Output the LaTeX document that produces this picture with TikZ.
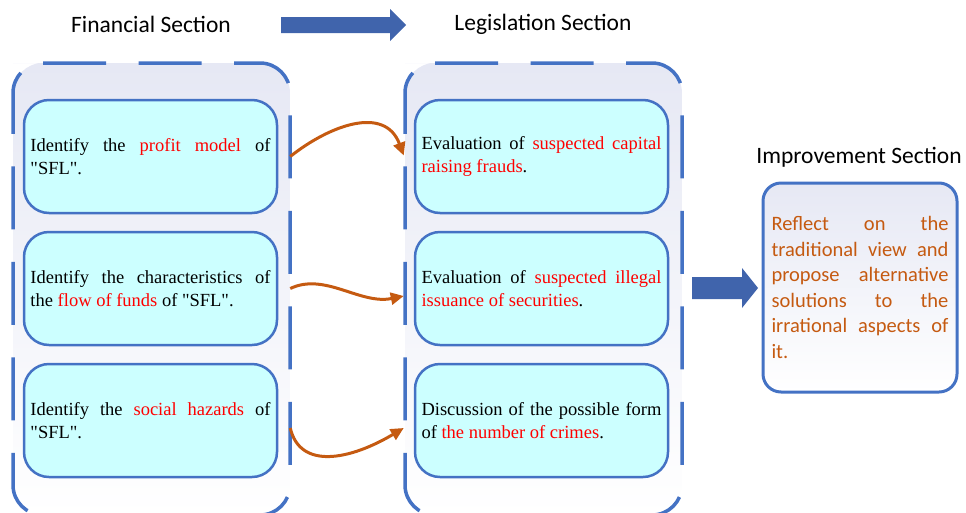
\documentclass[tikz,border=0pt]{standalone}
\usepackage{fontspec}
\setmainfont{Liberation Serif}[Ligatures=TeXOff]
\newfontfamily\calfont{Carlito}
\usetikzlibrary{arrows.meta}
\definecolor{boxblue}{HTML}{4472C4}
\definecolor{cyanfill}{HTML}{CCFFFF}
\definecolor{lav}{HTML}{E6E8F4}
\definecolor{arrowblue}{HTML}{4064AC}
\definecolor{orng}{HTML}{C55A11}
\definecolor{redtxt}{HTML}{FF0000}
\newcommand\redt[1]{\textcolor{redtxt}{#1}}
\newcommand\qq[1]{\char34 #1\char34}
\newcommand\nh[1]{\language=255\relax\hyphenpenalty=10000\relax\exhyphenpenalty=10000\relax
  \tolerance=9999\relax\emergencystretch=30pt\relax #1\par}
\tikzset{
  container/.style={draw=boxblue, line width=3.5pt, dash pattern=on 63pt off 32.5pt, rounded corners=30pt},
  containerleft/.style={container, dash phase=70.5pt},
  containerfill/.style={top color=lav, bottom color=white, rounded corners=30pt},
  innerbox/.style={draw=boxblue, line width=2.5pt, fill=cyanfill, rounded corners=25pt,
    minimum width=253pt, minimum height=113pt, text width=240pt, align=justify, inner sep=0pt,
    font=\fontsize{18.5}{23}\selectfont},
  impbox/.style={draw=boxblue, line width=3pt, top color=lav, bottom color=white, rounded corners=18pt,
    minimum width=194pt, minimum height=209pt, text width=177pt, align=justify, inner sep=0pt,
    font=\calfont\fontsize{20.5}{25.6}\selectfont, text=orng},
  title/.style={font=\calfont\fontsize{23.5}{28}\selectfont, inner sep=0pt},
  conn/.style={draw=orng, line width=3pt, -{Triangle[length=13pt,width=12pt]}},
  blockarrow/.style={fill=arrowblue, draw=none},
}
\begin{document}
\begin{tikzpicture}[x=1pt,y=-1pt]
\useasboundingbox (0,0) rectangle (966,512);
\clip (0,0) rectangle (966,512);

% titles
\node[title] (tfin) at (151,24) {Financial Section};
\node[title] (tleg) at (543,24) {Legislation Section};
\node[title] (timp) at (859,157) {Improvement Section};

% top block arrow
\path[blockarrow] (281,17) -- (390,17) -- (390,9) -- (406,25) -- (390,41) -- (390,33) -- (281,33) -- cycle;

% containers
\shade[containerfill] (43,63) -- (290,63) -- (290,515) -- (13,515) -- (13,63) -- cycle;
\shade[containerfill] (435,63) -- (682,63) -- (682,515) -- (405,515) -- (405,63) -- cycle;
\draw[container] (43,63) -- (290,63) -- (290,515) -- (150,515);
\draw[containerleft] (43,63) -- (13,63) -- (13,515) -- (150,515);
\draw[container] (435,63) -- (682,63) -- (682,515) -- (543,515);
\draw[containerleft] (435,63) -- (405,63) -- (405,515) -- (543,515);

% left boxes
\node[innerbox] (l1) at (150.5,156.5) {\nh{Identify the \redt{profit model} of \qq{SFL}.}};
\node[innerbox] (l2) at (150.5,288.5) {\nh{Identify the characteristics of\linebreak the \redt{flow of funds} of \qq{SFL}.}};
\node[innerbox] (l3) at (150.5,420.5) {\nh{Identify the \redt{social hazards} of \qq{SFL}.}};

% right boxes
\node[innerbox] (r1) at (541.5,156.5) {\nh{Evaluation of \redt{suspected capital raising frauds}.}};
\node[innerbox] (r2) at (541.5,288.5) {\nh{Evaluation of \redt{suspected illegal issuance of securities}.}};
\node[innerbox] (r3) at (541.5,420.5) {\nh{Discussion of the possible form of \redt{the number of crimes}.}};

% improvement box
\node[impbox] (imp) at (860,287.5) {\nh{Reflect on the\linebreak traditional view and\linebreak propose alternative\linebreak solutions to the\linebreak irrational aspects of\linebreak it.}};

% right block arrow
\path[blockarrow] (692,277) -- (742,277) -- (742,268) -- (758,288) -- (742,308) -- (742,299) -- (692,299) -- cycle;

% connectors
\draw[conn] ([xshift=12pt]l1.east) .. controls (330,125) and (385,105) .. ([xshift=-10pt,yshift=1pt]r1.west);
\draw[conn] ([xshift=12pt]l2.east) .. controls (325,272) and (360,305) .. ([xshift=-10pt,yshift=-7.5pt]r2.west);
\draw[conn] ([xshift=12pt,yshift=-7.5pt]l3.east) .. controls (300,470) and (350,460) .. ([xshift=-10pt,yshift=-7.5pt]r3.west);
\end{tikzpicture}
\end{document}
